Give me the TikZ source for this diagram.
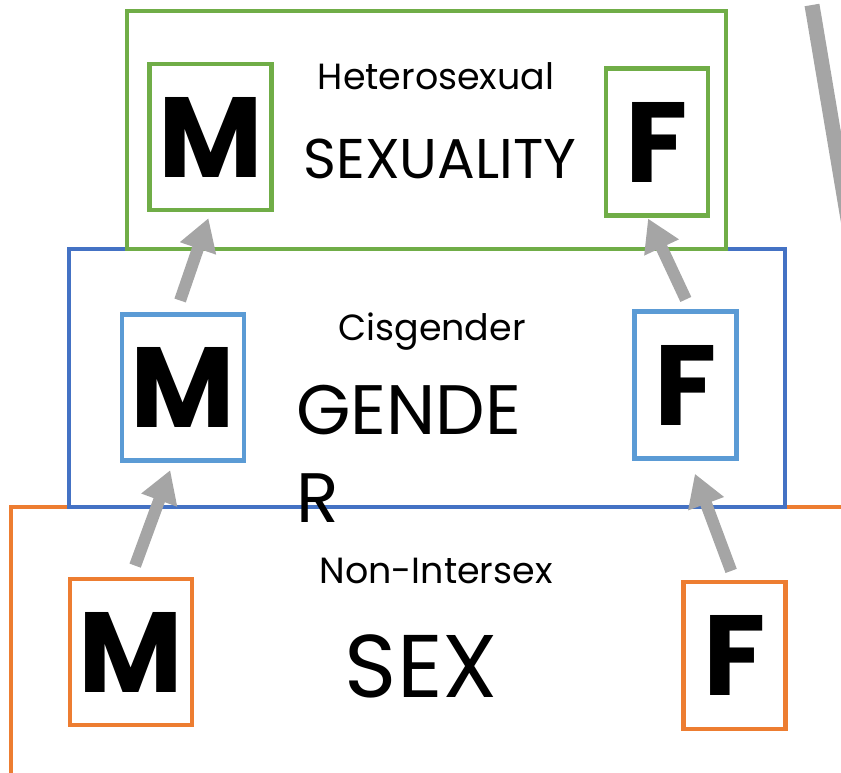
\documentclass[tikz,border=0pt]{standalone}
\usepackage{fontspec}
\setmainfont{Poppins}
\usepackage{tikz}
\usetikzlibrary{arrows.meta}
\definecolor{sexorange}{HTML}{ED7D31}
\definecolor{genblue}{HTML}{4472C4}
\definecolor{boxblue}{HTML}{5B9BD5}
\definecolor{sexygreen}{HTML}{70AD47}
\definecolor{arrowgray}{HTML}{A5A5A5}
\tikzset{
	layer/.style={line width=1.6pt},
	letterbox/.style={draw, line width=2.1pt, inner sep=0pt, font=\fontsize{57}{60}\selectfont\bfseries},
	mletter/.style={letterbox, minimum width=61pt, minimum height=73pt},
	fletter/.style={letterbox, minimum width=51pt, minimum height=73.5pt},
	smalltag/.style={font=\fontsize{18.2}{20}\selectfont, anchor=base, inner sep=0pt},
	arr/.style={draw=arrowgray, line width=6pt, -{Triangle[length=16pt,width=18pt]}}
}

\begin{document}
\begin{tikzpicture}[x=0.5pt,y=-0.5pt]
	\useasboundingbox (0,0) rectangle (841,772);
	\clip (0,0) rectangle (841,772);
	
	% the three layers
	\draw[layer, draw=sexorange] (11,507) rectangle (900,900);
	\draw[layer, draw=genblue] (69,249) rectangle (785,507);
	\draw[layer, draw=sexygreen] (127,11) rectangle (726,249);
	
	\coordinate (slashtop) at (812,5);
	\coordinate (slashend) at (870,350);
	\draw[draw=arrowgray, line width=7.5pt] (slashtop) -- (slashend);
	
	% sex
	\node[mletter, draw=sexorange] (sexM) at (131,652) {M};
	\node[fletter, draw=sexorange] (sexF) at (734.5,655.5) {F};
	\node[smalltag] (sextag) at (436,583) {Non-Intersex};
	\node[anchor=base, inner sep=0pt, font=\fontsize{44.5}{46}\selectfont] (sexword) at (421.5,697) {SEX};
	
	% gender
	\node[mletter, draw=boxblue] (genM) at (183,387.5) {M};
	\node[fletter, draw=boxblue] (genF) at (685.5,385) {F};
	\node[smalltag] (gentag) at (432,340) {Cisgender};
	\node[anchor=base west, inner sep=0pt, font=\fontsize{35}{37}\selectfont] (genword) at (296,434) {GENDE};
	\node[anchor=base west, inner sep=0pt, font=\fontsize{35}{37}\selectfont] (genwrap) at (296,522) {R};
	
	% sexuality
	\node[mletter, draw=sexygreen] (sexyM) at (210.5,137) {M};
	\node[fletter, draw=sexygreen] (sexyF) at (657,142) {F};
	\node[smalltag] (sexytag) at (436,89) {Heterosexual};
	\node[anchor=base, inner sep=0pt, font=\fontsize{28}{30}\selectfont] (sexyword) at (440,178) {SEXUALITY};
	
	% arrows
	\draw[arr, shorten <=6pt, shorten >=4pt] (sexM.north) -- ([xshift=-5pt]genM.south);
	\draw[arr, shorten <=4.8pt, shorten >=7pt] (sexF.north) -- ([xshift=2.25pt]genF.south);
	\draw[arr, shorten <=6.3pt, shorten >=3.2pt] ([xshift=-3.5pt]genM.north) -- (sexyM.south);
	\draw[arr, shorten <=5.5pt, shorten >=0.5pt] ([xshift=2.5pt]genF.north) -- ([xshift=-4.7pt]sexyF.south);
\end{tikzpicture}
\end{document}
